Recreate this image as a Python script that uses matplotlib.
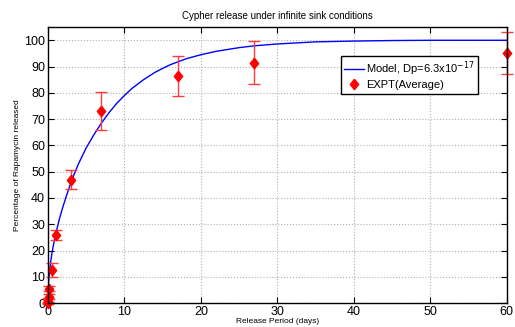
import matplotlib
matplotlib.use("Agg")
import matplotlib.pyplot as plt

plt.rcParams["font.family"] = ["Liberation Sans", "DejaVu Sans"]

# model curve
model_days = [0, 0.05, 0.1, 0.25, 0.5, 0.75, 1, 1.5, 2, 2.5, 3, 3.5, 4, 5, 6,
              7, 8, 9, 10, 11, 12.5, 14, 15, 16, 17, 18, 20, 22, 25, 27, 30,
              35, 40, 45, 50, 60]
model_pct = [0, 6, 8.4, 13, 18.5, 22.5, 26, 32, 37, 41.5, 45.7, 49.5, 53, 59,
             64, 68.5, 72.5, 76, 79, 81.7, 85, 87.8, 89.3, 90.7, 91.8, 92.9,
             94.5, 95.8, 97.2, 97.9, 98.6, 99.4, 99.7, 99.9, 100, 100]

# experimental averages
expt_days = [0, 0.04, 0.08, 0.17, 0.5, 1, 3, 7, 17, 27, 60]
expt_pct = [0, 1, 2.5, 5.5, 12.5, 26, 47, 73, 86.5, 91.5, 95]
expt_err = [0.5, 1, 1, 1, 2.6, 2, 3.6, 7.2, 7.7, 8.3, 8]

diamond = [(0, 1), (0.8, 0), (0, -1), (-0.8, 0), (0, 1)]

fig = plt.figure(figsize=(5.15, 3.27), dpi=100)
ax = fig.add_axes([0.093, 0.073, 0.891, 0.844])

ax.plot(model_days, model_pct, color="#0000ff", lw=1.0, label="Model, Dp=6.3x10$^{-17}$")
ax.errorbar(expt_days, expt_pct, yerr=expt_err, fmt="none", ecolor="#ff3c3c",
            elinewidth=1.0, capsize=4, capthick=1.0, clip_on=False)
ax.plot(expt_days, expt_pct, marker=diamond, color="#ff0000", ms=7.5, ls="none",
        label="EXPT(Average)", clip_on=False)

ax.set_xlim(0, 60)
ax.set_ylim(0, 105)
ax.set_xticks(range(0, 61, 10))
ax.set_yticks(range(0, 101, 10))
ax.tick_params(direction="in", top=True, right=True, labelsize=9, length=4, pad=2)
ax.grid(True, color="#b0b0b0", ls=":", lw=0.8)
for s in ax.spines.values():
    s.set_linewidth(1.0)

ax.set_title("Cypher release under infinite sink conditions", fontsize=7, pad=6)
ax.set_xlabel("Release Period (days)", fontsize=6, labelpad=0)
ax.set_ylabel("Percentage of Rapamycin released", fontsize=6, labelpad=2)

leg = ax.legend(loc="upper left", bbox_to_anchor=(0.638, 0.895), fontsize=8,
                frameon=True, fancybox=False, edgecolor="black", framealpha=1,
                handlelength=1.8, handletextpad=0.2, borderpad=0.3,
                labelspacing=0.2, borderaxespad=0)
leg.get_frame().set_linewidth(1.0)

fig.savefig("out.png", dpi=100)
